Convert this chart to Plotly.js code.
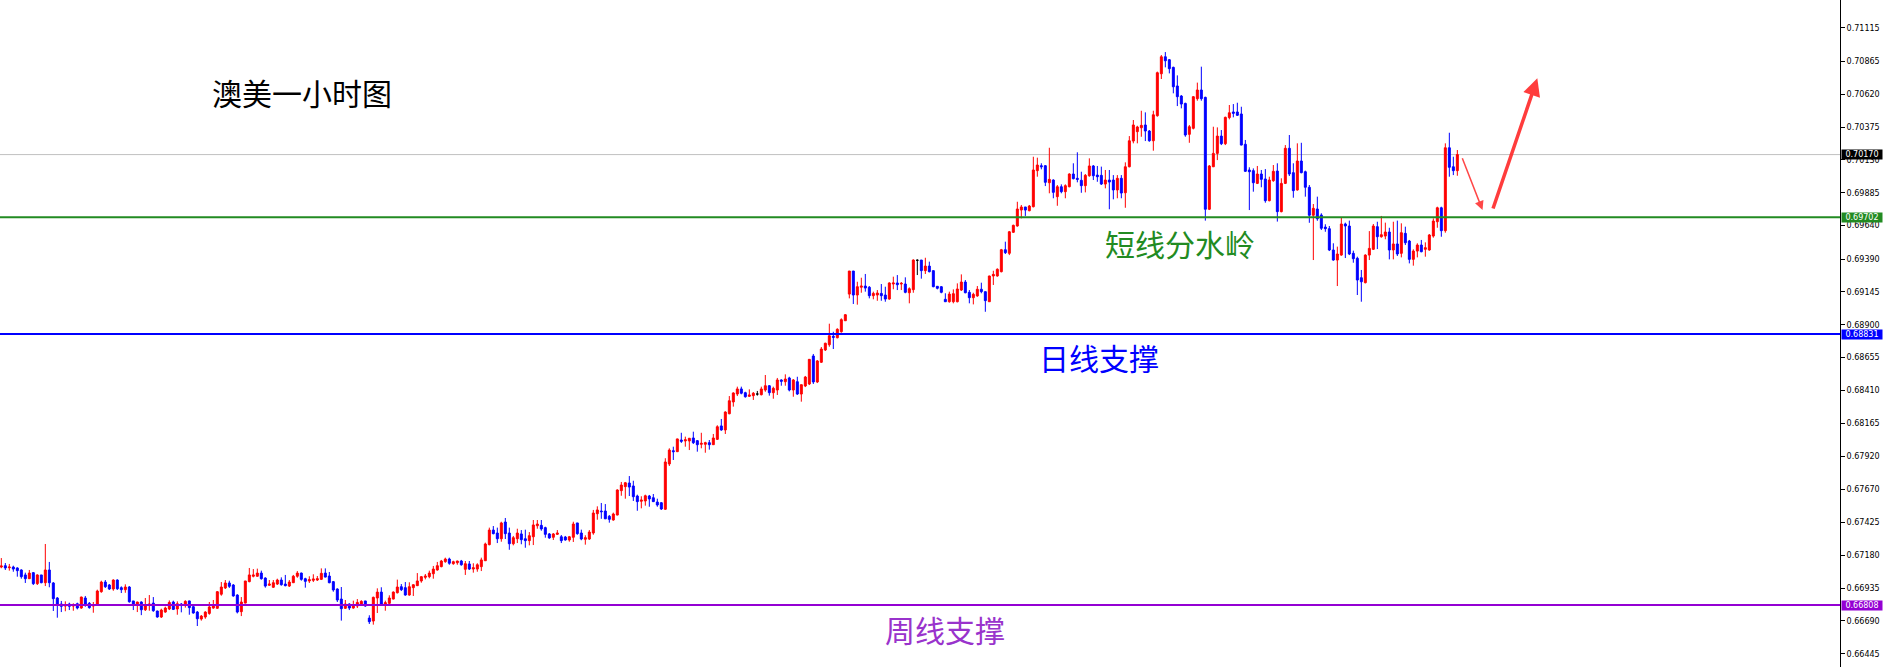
<!DOCTYPE html>
<html><head><meta charset="utf-8">
<script src="https://cdn.plot.ly/plotly-3.0.1.min.js"></script>
<style>html,body{margin:0;padding:0;background:#fff;overflow:hidden}#chart{width:1887px;height:667px}</style>
</head><body><div id="chart"></div>
<script>
// AUDUSD 1-hour candles (prices)
const openP = [
0.67092,0.67102,0.67087,0.67092,0.67085,0.67070,0.67033,0.67005,0.67050,0.66968,
0.67033,0.66975,0.67070,0.66973,0.66861,0.66816,0.66801,0.66816,0.66801,0.66818,
0.66786,0.66861,0.66821,0.66801,0.66816,0.66908,0.66980,0.66958,0.66928,0.66995,
0.66938,0.66923,0.66943,0.66839,0.66816,0.66831,0.66773,0.66806,0.66823,0.66764,
0.66719,0.66756,0.66779,0.66831,0.66779,0.66816,0.66816,0.66839,0.66796,0.66756,
0.66704,0.66719,0.66746,0.66786,0.66784,0.66889,0.66936,0.66973,0.66958,0.66883,
0.66759,0.66823,0.66983,0.67023,0.67023,0.67047,0.67010,0.66956,0.66941,0.66965,
0.66995,0.66965,0.66950,0.66975,0.67023,0.67047,0.67005,0.66988,0.66993,0.66995,
0.67000,0.67047,0.67025,0.66983,0.66928,0.66853,0.66784,0.66816,0.66786,0.66801,
0.66816,0.66839,0.66711,0.66689,0.66861,0.66905,0.66816,0.66821,0.66853,0.66900,
0.66945,0.66938,0.66883,0.66938,0.66953,0.66988,0.67015,0.67020,0.67042,0.67070,
0.67095,0.67132,0.67152,0.67117,0.67124,0.67137,0.67075,0.67115,0.67077,0.67077,
0.67095,0.67139,0.67259,0.67368,0.67346,0.67303,0.67428,0.67346,0.67266,0.67303,
0.67339,0.67303,0.67289,0.67318,0.67400,0.67403,0.67386,0.67339,0.67314,0.67336,
0.67318,0.67316,0.67294,0.67314,0.67421,0.67346,0.67299,0.67301,0.67346,0.67490,
0.67510,0.67510,0.67471,0.67443,0.67480,0.67662,0.67692,0.67719,0.67697,0.67622,
0.67583,0.67585,0.67622,0.67609,0.67577,0.67572,0.67523,0.67861,0.67960,0.67953,
0.68040,0.68033,0.68033,0.68055,0.68035,0.68008,0.68008,0.68020,0.68005,0.68045,
0.68145,0.68115,0.68236,0.68324,0.68383,0.68421,0.68393,0.68366,0.68371,0.68383,
0.68378,0.68413,0.68445,0.68393,0.68413,0.68488,0.68475,0.68503,0.68413,0.68475,
0.68383,0.68443,0.68458,0.68667,0.68473,0.68620,0.68712,0.68751,0.68814,0.68803,
0.68848,0.68930,0.69129,0.69301,0.69122,0.69180,0.69189,0.69180,0.69117,0.69122,
0.69134,0.69122,0.69092,0.69204,0.69212,0.69204,0.69204,0.69139,0.69162,0.69381,
0.69383,0.69304,0.69338,0.69304,0.69187,0.69184,0.69090,0.69072,0.69072,0.69072,
0.69159,0.69219,0.69142,0.69102,0.69115,0.69165,0.69147,0.69072,0.69264,0.69264,
0.69296,0.69460,0.69433,0.69590,0.69637,0.69756,0.69779,0.69751,0.69781,0.70050,
0.70087,0.70087,0.69960,0.69980,0.69856,0.69930,0.69893,0.69930,0.70025,0.69993,
0.69978,0.69938,0.70012,0.70085,0.70017,0.70015,0.69950,0.69980,0.69980,0.69906,
0.69993,0.69885,0.70079,0.70271,0.70341,0.70370,0.70391,0.70346,0.70273,0.70460,
0.70773,0.70900,0.70878,0.70821,0.70682,0.70607,0.70552,0.70321,0.70366,0.70587,
0.70652,0.70597,0.69762,0.70079,0.70179,0.70308,0.70251,0.70446,0.70488,0.70488,
0.70473,0.70247,0.70055,0.70050,0.69955,0.70025,0.69988,0.69826,0.69975,0.70047,
0.69744,0.69955,0.70217,0.70035,0.69906,0.70122,0.70042,0.69926,0.69717,0.69764,
0.69719,0.69629,0.69617,0.69458,0.69383,0.69420,0.69652,0.69637,0.69433,0.69396,
0.69251,0.69214,0.69420,0.69463,0.69632,0.69557,0.69562,0.69592,0.69458,0.69503,
0.69433,0.69582,0.69525,0.69388,0.69450,0.69495,0.69463,0.69458,0.69562,0.69669,
0.69773,0.69602,0.70221,0.70079,0.70050];
const highP = [
0.67159,0.67122,0.67115,0.67102,0.67090,0.67075,0.67050,0.67070,0.67055,0.67038,
0.67033,0.67264,0.67130,0.66980,0.66868,0.66839,0.66836,0.66826,0.66821,0.66826,
0.66871,0.66876,0.66831,0.66831,0.66923,0.66990,0.66995,0.66965,0.67000,0.67000,
0.66948,0.66963,0.66950,0.66839,0.66833,0.66836,0.66861,0.66883,0.66868,0.66766,
0.66781,0.66796,0.66843,0.66841,0.66836,0.66823,0.66844,0.66841,0.66806,0.66764,
0.66734,0.66762,0.66831,0.66846,0.66913,0.66980,0.66995,0.66990,0.66965,0.66889,
0.66868,0.66988,0.67085,0.67077,0.67080,0.67065,0.67015,0.66995,0.66995,0.67005,
0.67015,0.67033,0.66995,0.67033,0.67062,0.67050,0.67012,0.67023,0.67038,0.67025,
0.67082,0.67082,0.67055,0.66988,0.66933,0.66943,0.66846,0.66821,0.66841,0.66853,
0.66844,0.66839,0.66732,0.66871,0.66933,0.66941,0.66841,0.66881,0.66910,0.66998,
0.66965,0.66980,0.66978,0.66963,0.67047,0.67025,0.67040,0.67065,0.67100,0.67130,
0.67145,0.67162,0.67162,0.67139,0.67139,0.67145,0.67137,0.67137,0.67120,0.67120,
0.67162,0.67274,0.67386,0.67398,0.67386,0.67430,0.67458,0.67386,0.67324,0.67378,
0.67368,0.67371,0.67353,0.67443,0.67443,0.67443,0.67393,0.67346,0.67346,0.67368,
0.67331,0.67324,0.67324,0.67430,0.67421,0.67371,0.67329,0.67368,0.67518,0.67545,
0.67570,0.67562,0.67480,0.67498,0.67672,0.67727,0.67727,0.67771,0.67736,0.67632,
0.67620,0.67632,0.67630,0.67637,0.67602,0.67577,0.67904,0.67978,0.67990,0.68050,
0.68094,0.68065,0.68055,0.68102,0.68040,0.68094,0.68027,0.68040,0.68085,0.68150,
0.68197,0.68254,0.68368,0.68396,0.68438,0.68438,0.68400,0.68418,0.68398,0.68406,
0.68438,0.68525,0.68449,0.68438,0.68503,0.68493,0.68530,0.68512,0.68495,0.68512,
0.68453,0.68518,0.68644,0.68682,0.68637,0.68734,0.68766,0.68908,0.68848,0.68874,
0.68948,0.68980,0.69301,0.69301,0.69221,0.69251,0.69279,0.69189,0.69147,0.69159,
0.69204,0.69184,0.69217,0.69259,0.69271,0.69219,0.69254,0.69179,0.69388,0.69388,
0.69383,0.69400,0.69371,0.69304,0.69189,0.69189,0.69135,0.69147,0.69164,0.69209,
0.69276,0.69234,0.69159,0.69139,0.69189,0.69214,0.69147,0.69266,0.69303,0.69321,
0.69466,0.69520,0.69600,0.69647,0.69818,0.69794,0.69779,0.69794,0.70154,0.70147,
0.70105,0.70092,0.70221,0.69985,0.69943,0.69948,0.69948,0.70030,0.70105,0.70187,
0.70042,0.70025,0.70142,0.70092,0.70085,0.70080,0.70055,0.70055,0.70017,0.70017,
0.70017,0.70112,0.70308,0.70428,0.70385,0.70497,0.70485,0.70353,0.70497,0.70789,
0.70913,0.70935,0.70883,0.70826,0.70761,0.70614,0.70557,0.70391,0.70607,0.70707,
0.70826,0.70602,0.70092,0.70378,0.70373,0.70353,0.70453,0.70540,0.70547,0.70557,
0.70527,0.70279,0.70075,0.70067,0.70085,0.70055,0.70062,0.70005,0.70092,0.70105,
0.69993,0.70241,0.70316,0.70105,0.70254,0.70258,0.70050,0.69943,0.69801,0.69856,
0.69732,0.69650,0.69637,0.69508,0.69483,0.69702,0.69662,0.69677,0.69453,0.69408,
0.69309,0.69426,0.69599,0.69652,0.69669,0.69712,0.69662,0.69624,0.69669,0.69677,
0.69657,0.69632,0.69533,0.69463,0.69508,0.69533,0.69515,0.69577,0.69694,0.69781,
0.69781,0.70254,0.70333,0.70154,0.70204];
const lowP = [
0.67083,0.67070,0.67065,0.67057,0.67020,0.67005,0.66973,0.67003,0.66958,0.66958,
0.66971,0.66950,0.66941,0.66764,0.66714,0.66756,0.66762,0.66771,0.66766,0.66776,
0.66781,0.66796,0.66781,0.66751,0.66806,0.66900,0.66936,0.66921,0.66915,0.66921,
0.66898,0.66900,0.66826,0.66771,0.66756,0.66733,0.66764,0.66766,0.66758,0.66714,
0.66712,0.66751,0.66771,0.66771,0.66736,0.66754,0.66789,0.66736,0.66744,0.66652,
0.66692,0.66706,0.66736,0.66781,0.66781,0.66878,0.66928,0.66936,0.66871,0.66746,
0.66726,0.66821,0.66978,0.67015,0.67020,0.66998,0.66938,0.66953,0.66936,0.66958,
0.66953,0.66948,0.66943,0.66973,0.67012,0.66990,0.66938,0.66973,0.66980,0.66988,
0.66995,0.67015,0.66971,0.66908,0.66831,0.66692,0.66779,0.66771,0.66781,0.66786,
0.66811,0.66796,0.66667,0.66662,0.66749,0.66808,0.66766,0.66816,0.66851,0.66895,
0.66913,0.66878,0.66878,0.66876,0.66950,0.66975,0.67000,0.67008,0.67005,0.67065,
0.67090,0.67124,0.67109,0.67109,0.67109,0.67102,0.67033,0.67070,0.67050,0.67057,
0.67062,0.67137,0.67254,0.67336,0.67271,0.67281,0.67301,0.67221,0.67254,0.67271,
0.67262,0.67236,0.67254,0.67256,0.67378,0.67363,0.67311,0.67303,0.67294,0.67331,
0.67271,0.67289,0.67281,0.67279,0.67333,0.67292,0.67259,0.67294,0.67333,0.67445,
0.67452,0.67450,0.67423,0.67438,0.67478,0.67624,0.67602,0.67622,0.67585,0.67512,
0.67530,0.67550,0.67542,0.67577,0.67542,0.67518,0.67518,0.67846,0.67891,0.67950,
0.68018,0.67990,0.67965,0.68010,0.67953,0.67978,0.67945,0.67968,0.68003,0.68040,
0.68109,0.68085,0.68232,0.68289,0.68368,0.68381,0.68356,0.68363,0.68339,0.68371,
0.68373,0.68400,0.68371,0.68348,0.68376,0.68445,0.68445,0.68403,0.68363,0.68376,
0.68326,0.68435,0.68450,0.68458,0.68465,0.68615,0.68704,0.68736,0.68719,0.68799,
0.68841,0.68928,0.69097,0.69055,0.69050,0.69139,0.69147,0.69097,0.69090,0.69079,
0.69079,0.69072,0.69087,0.69165,0.69159,0.69159,0.69135,0.69060,0.69139,0.69271,
0.69244,0.69279,0.69291,0.69180,0.69164,0.69135,0.69072,0.69065,0.69060,0.69067,
0.69152,0.69135,0.69060,0.69052,0.69109,0.69135,0.68997,0.69070,0.69197,0.69259,
0.69291,0.69428,0.69420,0.69585,0.69632,0.69694,0.69712,0.69747,0.69776,0.70005,
0.70060,0.69935,0.69881,0.69844,0.69788,0.69881,0.69844,0.69926,0.69985,0.69963,
0.69885,0.69888,0.70005,0.69980,0.69967,0.69943,0.69918,0.69762,0.69836,0.69844,
0.69844,0.69773,0.70075,0.70254,0.70254,0.70303,0.70271,0.70266,0.70199,0.70453,
0.70734,0.70821,0.70776,0.70627,0.70532,0.70515,0.70303,0.70258,0.70358,0.70572,
0.70572,0.69677,0.69756,0.70077,0.70129,0.70241,0.70241,0.70433,0.70448,0.70458,
0.70239,0.70040,0.69756,0.69893,0.69950,0.69926,0.69811,0.69821,0.69967,0.69670,
0.69739,0.69950,0.70010,0.69848,0.69901,0.70030,0.69856,0.69661,0.69383,0.69676,
0.69607,0.69594,0.69450,0.69378,0.69189,0.69415,0.69398,0.69420,0.69363,0.69122,
0.69072,0.69209,0.69383,0.69458,0.69465,0.69550,0.69538,0.69388,0.69388,0.69413,
0.69403,0.69495,0.69358,0.69341,0.69403,0.69441,0.69408,0.69453,0.69550,0.69624,
0.69557,0.69587,0.70005,0.70017,0.70012];
const closeP = [
0.67100,0.67085,0.67092,0.67077,0.67065,0.67020,0.67005,0.67047,0.66968,0.67033,
0.66975,0.67070,0.66975,0.66856,0.66808,0.66799,0.66811,0.66799,0.66811,0.66786,
0.66868,0.66816,0.66789,0.66811,0.66913,0.66980,0.66945,0.66928,0.66995,0.66930,
0.66923,0.66943,0.66833,0.66816,0.66831,0.66773,0.66808,0.66816,0.66766,0.66719,
0.66771,0.66786,0.66828,0.66776,0.66818,0.66806,0.66836,0.66789,0.66749,0.66706,
0.66726,0.66756,0.66794,0.66806,0.66908,0.66943,0.66973,0.66948,0.66876,0.66756,
0.66831,0.66988,0.67033,0.67033,0.67047,0.67005,0.66950,0.66965,0.66975,0.66995,
0.66960,0.66953,0.66980,0.67023,0.67047,0.67000,0.66985,0.66998,0.67003,0.67005,
0.67045,0.67017,0.66975,0.66921,0.66846,0.66781,0.66816,0.66786,0.66808,0.66828,
0.66836,0.66801,0.66684,0.66866,0.66905,0.66816,0.66826,0.66861,0.66905,0.66943,
0.66923,0.66883,0.66945,0.66960,0.66988,0.67020,0.67025,0.67047,0.67077,0.67102,
0.67137,0.67152,0.67120,0.67132,0.67137,0.67109,0.67117,0.67077,0.67087,0.67109,
0.67145,0.67264,0.67368,0.67341,0.67303,0.67421,0.67341,0.67266,0.67311,0.67346,
0.67296,0.67289,0.67326,0.67406,0.67413,0.67376,0.67336,0.67309,0.67339,0.67346,
0.67289,0.67294,0.67318,0.67413,0.67341,0.67301,0.67311,0.67353,0.67495,0.67518,
0.67505,0.67452,0.67448,0.67488,0.67667,0.67704,0.67721,0.67689,0.67617,0.67580,
0.67592,0.67624,0.67600,0.67580,0.67555,0.67525,0.67876,0.67965,0.67953,0.68048,
0.68030,0.68042,0.68053,0.68020,0.68005,0.68015,0.68020,0.68005,0.68055,0.68139,
0.68115,0.68249,0.68333,0.68391,0.68421,0.68389,0.68363,0.68376,0.68389,0.68383,
0.68421,0.68445,0.68393,0.68426,0.68488,0.68478,0.68495,0.68413,0.68488,0.68383,
0.68453,0.68510,0.68642,0.68473,0.68630,0.68719,0.68762,0.68818,0.68806,0.68866,
0.68938,0.68975,0.69301,0.69122,0.69184,0.69189,0.69174,0.69117,0.69134,0.69137,
0.69117,0.69092,0.69212,0.69212,0.69199,0.69209,0.69142,0.69169,0.69383,0.69381,
0.69304,0.69338,0.69296,0.69184,0.69172,0.69142,0.69072,0.69129,0.69132,0.69167,
0.69219,0.69139,0.69102,0.69127,0.69165,0.69147,0.69080,0.69264,0.69276,0.69314,
0.69460,0.69438,0.69594,0.69642,0.69764,0.69779,0.69756,0.69786,0.70055,0.70092,
0.70079,0.69963,0.69985,0.69888,0.69930,0.69893,0.69938,0.70025,0.69990,0.69985,
0.69938,0.70015,0.70085,0.70012,0.70005,0.69950,0.69980,0.69965,0.69906,0.69993,
0.69883,0.70079,0.70273,0.70391,0.70376,0.70388,0.70346,0.70273,0.70467,0.70781,
0.70900,0.70870,0.70811,0.70676,0.70602,0.70547,0.70316,0.70378,0.70602,0.70652,
0.70587,0.69762,0.70085,0.70179,0.70308,0.70251,0.70448,0.70482,0.70478,0.70463,
0.70241,0.70045,0.70042,0.69960,0.70025,0.69985,0.69826,0.69980,0.70045,0.69744,
0.69955,0.70217,0.70025,0.69901,0.70122,0.70035,0.69926,0.69717,0.69769,0.69691,
0.69620,0.69617,0.69458,0.69383,0.69428,0.69652,0.69637,0.69428,0.69393,0.69234,
0.69221,0.69420,0.69470,0.69637,0.69557,0.69572,0.69592,0.69458,0.69503,0.69428,
0.69587,0.69512,0.69388,0.69450,0.69495,0.69445,0.69475,0.69570,0.69674,0.69773,
0.69602,0.70221,0.70075,0.70050,0.70170];

const yTickVals = [0.71115,0.70865,0.70620,0.70375,0.70130,0.69885,0.69640,0.69390,0.69145,0.68900,
  0.68655,0.68410,0.68165,0.67920,0.67670,0.67425,0.67180,0.66935,0.66690,0.66445];

// horizontal price levels: current price, short-term pivot, daily support, weekly support
const levelValues = [0.70170, 0.69702, 0.68831, 0.66808];
const levelColors = ['#c0c0c0', '#228b22', '#0000ff', '#9400d3'];
const levelBoxColors = ['#000000', '#228b22', '#0000ff', '#9400d3'];
const levelNames = [null, '短线分水岭', '日线支撑', '周线支撑'];
const chartTitle = '澳美一小时图';

// hand-drawn forecast arrows (candle index, price)
const arrowDownX = [365.1, 370.3], arrowDownY = [0.70154, 0.69756];
const arrowUpX = [372.8, 384.0], arrowUpY = [0.69756, 0.70739];

const idx = openP.map((_, i) => i);
function pick(test) {
  const sel = idx.filter(test);
  return {
    x: sel, open: sel.map(i => openP[i]), high: sel.map(i => highP[i]),
    low: sel.map(i => lowP[i]), close: sel.map(i => closeP[i])
  };
}
function candle(d, color) {
  return Object.assign({
    type: 'candlestick', hoverinfo: 'skip', showlegend: false,
    increasing: {line: {color: color, width: 1}, fillcolor: color},
    decreasing: {line: {color: color, width: 1}, fillcolor: color},
    whiskerwidth: 0
  }, d);
}
const traces = [
  candle(pick(i => closeP[i] > openP[i]), '#ff0000'),
  candle(pick(i => closeP[i] < openP[i]), '#0000ff'),
  candle(pick(i => closeP[i] === openP[i]), '#000000')
];

const W = 1887, H = 667, PLOT_W = 1840;
const shapes = levelValues.map((v, k) => ({
  type: 'line', xref: 'paper', x0: 0, x1: 1, yref: 'y', y0: v, y1: v,
  line: {color: levelColors[k], width: k === 0 ? 1 : 2}, layer: k === 0 ? 'below' : 'above'
}));

const annotations = [];
levelValues.forEach((v, k) => {
  annotations.push({
    xref: 'paper', x: 1, xanchor: 'left', xshift: 1, yref: 'y', y: v, yanchor: 'middle',
    text: v.toFixed(5), showarrow: false, bgcolor: levelBoxColors[k],
    font: {family: 'DejaVu Sans', size: 8, color: '#ffffff'},
    width: 40, height: 9, borderpad: 0
  });
});
annotations.push({
  xref: 'paper', yref: 'paper', x: 302 / PLOT_W, y: 1 - 92 / H, xanchor: 'center', yanchor: 'middle',
  text: chartTitle, showarrow: false,
  font: {family: 'Noto Sans CJK SC', size: 30, color: '#000000'}
});
const labelPos = [null, [1180, 243], [1099, 357], [945, 629]];
const labelColors = [null, '#228b22', '#0000ff', '#9933cc'];
for (let k = 1; k < 4; k++) {
  annotations.push({
    xref: 'paper', yref: 'paper', x: labelPos[k][0] / PLOT_W, y: 1 - labelPos[k][1] / H,
    xanchor: 'center', yanchor: 'middle', text: levelNames[k], showarrow: false,
    font: {family: 'Noto Sans CJK SC', size: 30, color: labelColors[k]}
  });
}
annotations.push({
  xref: 'x', yref: 'y', axref: 'x', ayref: 'y',
  x: arrowDownX[1], y: arrowDownY[1], ax: arrowDownX[0], ay: arrowDownY[0],
  showarrow: true, arrowhead: 2, arrowsize: 1.2, arrowwidth: 1.5, arrowcolor: 'rgba(255,40,40,0.85)', text: ''
});
annotations.push({
  xref: 'x', yref: 'y', axref: 'x', ayref: 'y',
  x: arrowUpX[1], y: arrowUpY[1], ax: arrowUpX[0], ay: arrowUpY[0],
  showarrow: true, arrowhead: 2, arrowsize: 1, arrowwidth: 3.5, arrowcolor: 'rgba(255,40,40,0.9)', text: ''
});

const layout = {
  width: W, height: H,
  margin: {l: 0, r: W - PLOT_W, t: 0, b: 0, pad: 0},
  paper_bgcolor: '#ffffff', plot_bgcolor: '#ffffff',
  showlegend: false, hovermode: false, dragmode: false,
  xaxis: {
    range: [-0.33, (PLOT_W - 1.33) / 4], showgrid: false, zeroline: false,
    showticklabels: false, ticks: '', showline: false, rangeslider: {visible: false}, fixedrange: true
  },
  yaxis: {
    side: 'right', range: [0.66346, 0.713236], showgrid: false, zeroline: false,
    showline: true, linecolor: '#000000', linewidth: 1,
    ticks: 'outside', ticklen: 4, tickwidth: 1, tickcolor: '#000000',
    tickmode: 'array', tickvals: yTickVals, ticktext: yTickVals.map(v => v.toFixed(5)),
    tickfont: {family: 'DejaVu Sans', size: 8, color: '#000000'}, fixedrange: true
  },
  shapes: shapes, annotations: annotations
};
Plotly.newPlot('chart', traces, layout, {staticPlot: true, displayModeBar: false});
</script></body></html>
